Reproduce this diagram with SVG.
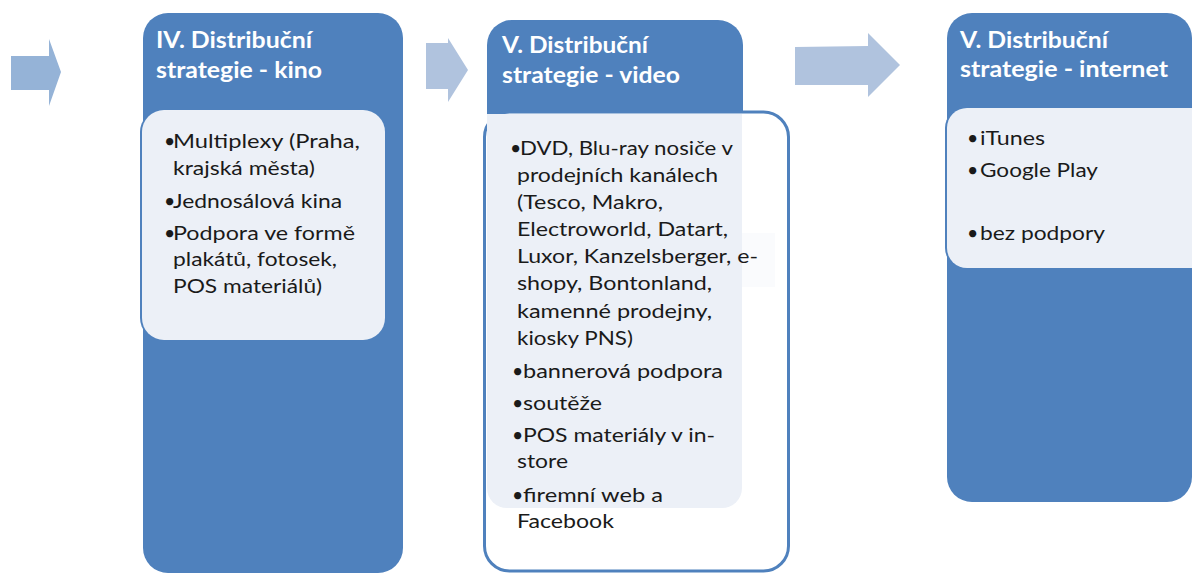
<svg xmlns="http://www.w3.org/2000/svg" width="1192" height="574" viewBox="0 0 1192 574">
<style>
.blue{fill:#4f81bd}
.light{fill:#ecf0f7}
.title{font-family:Lato,"Open Sans","Liberation Sans",sans-serif;font-weight:bold;font-size:22px;fill:#ffffff}
.body{font-family:Lato,"Open Sans","Liberation Sans",sans-serif;font-size:19.5px;fill:#1a1a1a}
</style>
<rect width="1192" height="574" fill="#ffffff"/>
<g id="connectors">
<polygon points="11,56 49,56 49,39 61,72 49,106 49,90 11,90" fill="#95b3d7"/>
<polygon points="426,43 448,43 448,38 468,70 448,102 448,89 426,89" fill="#b0c3de"/>
<polygon points="795,47 868,46 868,33 900,65 868,97 868,85 795,85" fill="#b0c3de"/>
</g>
<g id="node-kino">
<rect class="blue" x="143" y="13" width="260" height="560" rx="25"/>
<rect x="140" y="110" width="245" height="230" rx="22" fill="#4f81bd"/>
<rect class="light" x="142" y="110" width="243" height="230" rx="22"/>
<text class="title" x="156" y="48" textLength="156" lengthAdjust="spacingAndGlyphs">IV. Distribuční</text>
<text class="title" x="156" y="78" textLength="166" lengthAdjust="spacingAndGlyphs">strategie - kino</text>
<g class="body">
<text x="164" y="148">•</text>
<text x="173" y="148" textLength="187" lengthAdjust="spacingAndGlyphs">Multiplexy (Praha,</text>
<text x="173" y="175" textLength="142" lengthAdjust="spacingAndGlyphs">krajská města)</text>
<text x="164" y="208">•</text>
<text x="173" y="208" textLength="169" lengthAdjust="spacingAndGlyphs">Jednosálová kina</text>
<text x="164" y="240">•</text>
<text x="173" y="240" textLength="182" lengthAdjust="spacingAndGlyphs">Podpora ve formě</text>
<text x="173" y="266" textLength="164" lengthAdjust="spacingAndGlyphs">plakátů, fotosek,</text>
<text x="173" y="293" textLength="149" lengthAdjust="spacingAndGlyphs">POS materiálů)</text>
</g>
</g>
<g id="node-video">
<rect class="blue" x="487" y="20" width="256" height="140" rx="25"/>
<rect x="484.5" y="112" width="304" height="459" rx="25" fill="#ffffff" stroke="#4f81bd" stroke-width="3"/>
<path class="light" d="M487,114 H742 V488 A20,20 0 0 1 722,508 H507 A20,20 0 0 1 487,488 Z"/>
<rect x="742" y="233" width="33" height="54" fill="#fafbfd"/>
<text class="title" x="502" y="53" textLength="146" lengthAdjust="spacingAndGlyphs">V. Distribuční</text>
<text class="title" x="502" y="83" textLength="178" lengthAdjust="spacingAndGlyphs">strategie - video</text>
<g class="body">
<text x="510" y="155">•</text>
<text x="520" y="155" textLength="213" lengthAdjust="spacingAndGlyphs">DVD, Blu-ray nosiče v</text>
<text x="517" y="182" textLength="201" lengthAdjust="spacingAndGlyphs">prodejních kanálech</text>
<text x="517" y="209" textLength="146" lengthAdjust="spacingAndGlyphs">(Tesco, Makro,</text>
<text x="517" y="236" textLength="211" lengthAdjust="spacingAndGlyphs">Electroworld, Datart,</text>
<text x="517" y="263" textLength="241" lengthAdjust="spacingAndGlyphs">Luxor, Kanzelsberger, e-</text>
<text x="517" y="290" textLength="195" lengthAdjust="spacingAndGlyphs">shopy, Bontonland,</text>
<text x="517" y="318" textLength="195" lengthAdjust="spacingAndGlyphs">kamenné prodejny,</text>
<text x="517" y="345" textLength="116" lengthAdjust="spacingAndGlyphs">kiosky PNS)</text>
<text x="512" y="378">•</text>
<text x="523" y="378" textLength="200" lengthAdjust="spacingAndGlyphs">bannerová podpora</text>
<text x="512" y="410">•</text>
<text x="523" y="410" textLength="79" lengthAdjust="spacingAndGlyphs">soutěže</text>
<text x="512" y="442">•</text>
<text x="523" y="442" textLength="192" lengthAdjust="spacingAndGlyphs">POS materiály v in-</text>
<text x="517" y="468" textLength="51" lengthAdjust="spacingAndGlyphs">store</text>
<text x="512" y="502">•</text>
<text x="523" y="502" textLength="140" lengthAdjust="spacingAndGlyphs">firemní web a</text>
<text x="517" y="528" textLength="97" lengthAdjust="spacingAndGlyphs">Facebook</text>
</g>
</g>
<g id="node-internet">
<rect class="blue" x="947" y="13" width="245" height="489" rx="25"/>
<rect x="945" y="108" width="270" height="160" rx="20" fill="#4f81bd"/>
<rect class="light" x="947" y="108" width="268" height="160" rx="20"/>
<text class="title" x="960" y="48" textLength="148" lengthAdjust="spacingAndGlyphs">V. Distribuční</text>
<text class="title" x="960" y="77" textLength="208" lengthAdjust="spacingAndGlyphs">strategie - internet</text>
<g class="body">
<text x="967" y="145">•</text>
<text x="980" y="145" textLength="65" lengthAdjust="spacingAndGlyphs">iTunes</text>
<text x="967" y="177">•</text>
<text x="980" y="177" textLength="118" lengthAdjust="spacingAndGlyphs">Google Play</text>
<text x="967" y="240">•</text>
<text x="980" y="240" textLength="125" lengthAdjust="spacingAndGlyphs">bez podpory</text>
</g>
</g>
</svg>
